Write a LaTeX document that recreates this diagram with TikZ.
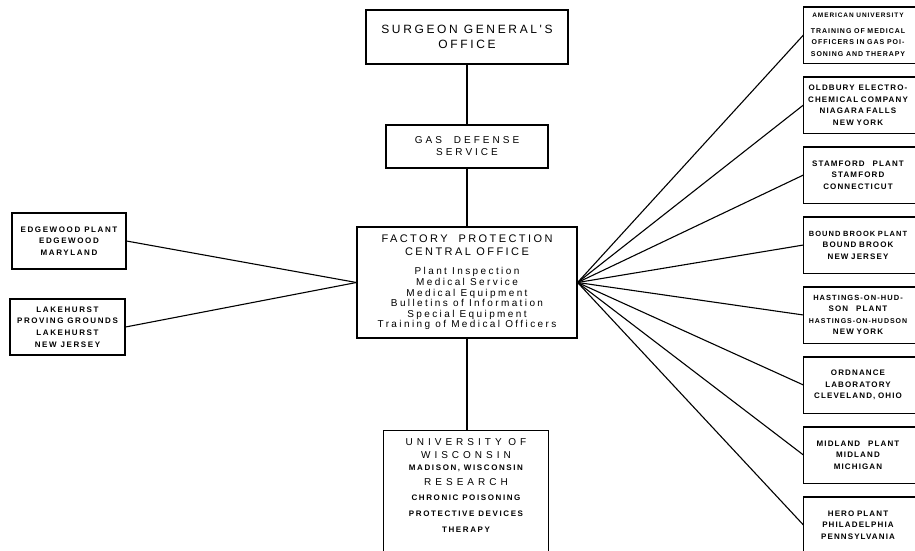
\documentclass[tikz,border=0pt]{standalone}
\usepackage{fontspec}
\setmainfont{Liberation Sans}
\newfontfamily\widefont[LetterSpace=22]{Liberation Sans}
\newfontfamily\gasfont[LetterSpace=30]{Liberation Sans}
\newfontfamily\widerfont[LetterSpace=40]{Liberation Sans}
\newfontfamily\listfont[LetterSpace=24]{Liberation Sans}
\newfontfamily\plantfont[LetterSpace=20]{Liberation Sans}
\newfontfamily\smallfont[LetterSpace=14]{Liberation Sans}
\newcommand\sz[2]{\fontsize{#1}{#2}\selectfont}
\newcommand\hdfont{\widefont\sz{11}{10.6}}
\newcommand\lstfont{\listfont\sz{10}{10.6}}
\newcommand\uwbig{\widerfont\mdseries\sz{10}{12}}
\newcommand\uwsmall{\plantfont\bfseries\sz{8}{12}}

\begin{document}
\lineskiplimit=-100pt
\begin{tikzpicture}[x=1pt, y=-1pt, line width=1.1pt,
  box/.style={draw, rectangle, align=center, inner sep=0pt},
  plant/.style={rectangle, text width=104pt, align=center, inner xsep=2pt,
    inner ysep=0pt, minimum height=55pt, font=\smallfont\bfseries\sz{8}{11.5}}]

\useasboundingbox (0,0) rectangle (915,550);
\clip (0,0) rectangle (915,550);

% central column
\node[box, minimum width=202pt, minimum height=54pt, font=\widefont\sz{12}{15}] (sgo) at (467,37) {SURGEON\enspace GENERAL'S\\OFFICE};
\node[box, minimum width=162pt, minimum height=43pt, font=\gasfont\sz{10}{12}] (gds) at (467,146.5) {GAS\hspace{12pt}DEFENSE\\SERVICE};
\node[box, minimum width=220pt, minimum height=111pt, font=\lstfont] (fpco) at (467,282.5)
  {\hdfont FACTORY\quad PROTECTION\\[2.4pt]\hdfont CENTRAL\enspace OFFICE\\[8.4pt]
   Plant Inspection\\Medical Service\\Medical Equipment\\
   Bulletins of Information\\Special Equipment\\Training of Medical Officers};
\node[box, anchor=north, minimum width=165pt, minimum height=140pt] (uw) at (466,430) {};
\node[anchor=north, align=center, inner sep=0pt, font=\uwsmall] (uwtext) at (466,438)
  {\uwbig UNIVERSITY OF\\[1pt]\uwbig WISCONSIN\\
   MADISON, WISCONSIN\\[3pt]
   \uwbig RESEARCH\\[3pt]
   CHRONIC POISONING\\[4pt]PROTECTIVE DEVICES\\[4pt]THERAPY};

% left boxes
\node[box, minimum width=114pt, minimum height=56pt, font=\plantfont\bfseries\sz{8}{11.5}] (ewp) at (69,241)
  {EDGEWOOD\enspace PLANT\\EDGEWOOD\\MARYLAND};
\node[box, minimum width=115pt, minimum height=56pt, font=\plantfont\bfseries\sz{8}{11.7}] (lpg) at (67.5,327)
  {LAKEHURST\\PROVING GROUNDS\\LAKEHURST\\NEW JERSEY};

% right boxes
\node[plant] (au) at (858,35) {\sz{6.5}{11}AMERICAN UNIVERSITY\\[5pt]\sz{7}{11}TRAINING OF MEDICAL\\OFFICERS IN GAS POI-\\SONING AND THERAPY};
\node[plant] (oec) at (858,105) {OLDBURY\enspace ELECTRO-\\CHEMICAL COMPANY\\NIAGARA FALLS\\NEW YORK};
\node[plant] (spl) at (858,175) {STAMFORD\quad PLANT\\STAMFORD\\CONNECTICUT};
\node[plant] (bbp) at (858,245) {\sz{7.5}{11.5}\mbox{BOUND BROOK PLANT}\\\sz{8}{11.5}BOUND BROOK\\NEW JERSEY};
\node[plant] (hop) at (858,315) {\sz{7.5}{11.5}\mbox{HASTINGS-ON-HUD-}\\\sz{8}{11.5}SON\quad PLANT\\\sz{7}{11.5}\mbox{HASTINGS-ON-HUDSON}\\\sz{8}{11.5}NEW YORK};
\node[plant] (ord) at (858,385) {ORDNANCE\\LABORATORY\\CLEVELAND, OHIO};
\node[plant] (mip) at (858,455) {MIDLAND\quad PLANT\\MIDLAND\\MICHIGAN};
\node[plant] (hep) at (858,525) {HERO PLANT\\PHILADELPHIA\\PENNSYLVANIA};
\foreach \p in {au,oec,spl,bbp,hop,ord,mip,hep}
  \draw (\p.south west) rectangle ([xshift=40pt]\p.north east);

% connectors
\draw (sgo.south) -- (gds.north);
\draw (gds.south) -- (fpco.north);
\draw (fpco.south) -- (fpco.south |- uw.north);
\foreach \p in {ewp,lpg}
  \draw (\p.east) -- (fpco.west);
\foreach \p in {au,oec,spl,bbp,hop,ord,mip,hep}
  \draw (fpco.east) -- (\p.west);

\end{tikzpicture}
\end{document}
